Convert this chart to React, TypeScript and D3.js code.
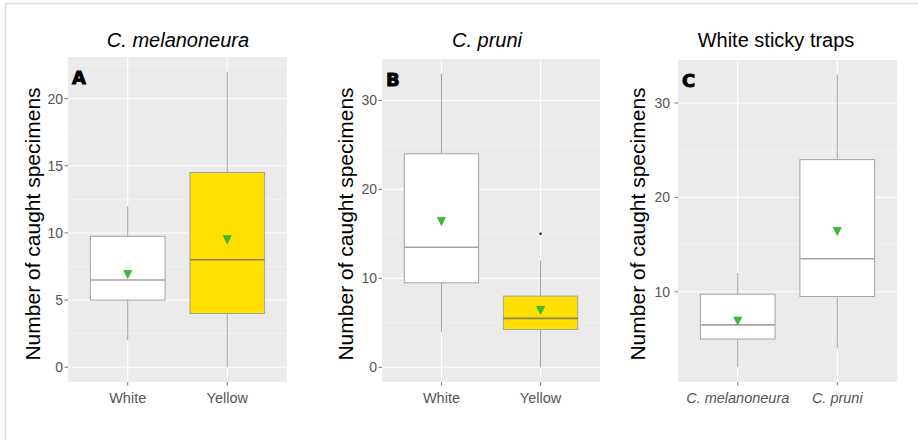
import * as d3 from "d3";
import React from "react";

// five-number summaries: [lower whisker, q1, median, q3, upper whisker]
const trapColours = ["White", "Yellow"];
const speciesNames = ["C. melanoneura", "C. pruni"];

const melanoneuraWhite = [2, 5, 6.5, 9.75, 12];
const melanoneuraYellow = [0, 4, 8, 14.5, 22];
const pruniWhite = [4, 9.5, 13.5, 24, 33];
const pruniYellow = [0, 4.25, 5.5, 8, 12];

const meansA = [6.9, 9.5];
const meansB = [16.4, 6.4];
const meansC = [6.9, 16.4];

const outliersA: number[][] = [[], []];
const outliersB: number[][] = [[], [15]];
const outliersC: number[][] = [[], []];

const ticksA = [0, 5, 10, 15, 20];
const ticksB = [0, 10, 20, 30];
const ticksC = [10, 20, 30];

const WHITE_FILL = "#ffffff";
const YELLOW_FILL = "#ffdf00";
const BOX_LINE = "#a3a3a3";
const PANEL_BG = "#ebebeb";

interface PanelProps {
  left: number;
  right: number;
  top: number;
  bottom: number;
  title: string;
  titleX: number;
  titleItalic: boolean;
  letter: string;
  yLabelX: number;
  tickGap: number;
  categories: string[];
  boxes: number[][];
  means: number[];
  outliers: number[][];
  fills: string[];
  ticks: number[];
  italicCats: boolean;
}

const Panel = (p: PanelProps) => {
  const all = p.boxes.flat().concat(p.outliers.flat());
  const lo = d3.min(all) as number;
  const hi = d3.max(all) as number;
  const pad = (hi - lo) * 0.05;
  const y = d3
    .scaleLinear()
    .domain([lo - pad, hi + pad])
    .range([p.bottom, p.top]);
  const x = d3
    .scalePoint<string>()
    .domain(p.categories)
    .range([p.left, p.right])
    .padding(0.6);
  const bw = x.step() * 0.75;
  const step = p.ticks[1] - p.ticks[0];
  const [d0, d1] = y.domain();
  const minor: number[] = [];
  for (let v = p.ticks[0] - step / 2; v <= d1; v += step) {
    if (v >= d0) minor.push(v);
  }

  return (
    <g>
      <text
        x={p.titleX}
        y={47}
        textAnchor="middle"
        fontSize={20}
        fontStyle={p.titleItalic ? "italic" : "normal"}
        fill="#000"
      >
        {p.title}
      </text>
      <rect
        x={p.left}
        y={p.top}
        width={p.right - p.left}
        height={p.bottom - p.top}
        fill={PANEL_BG}
      />
      {minor.map(v => (
        <line
          key={"mi" + v}
          x1={p.left}
          x2={p.right}
          y1={y(v)}
          y2={y(v)}
          stroke="#f6f6f6"
          strokeWidth={0.6}
        />
      ))}
      {p.ticks.map(v => (
        <line
          key={"ma" + v}
          x1={p.left}
          x2={p.right}
          y1={y(v)}
          y2={y(v)}
          stroke="#fff"
          strokeWidth={1.1}
        />
      ))}
      {p.categories.map(c => (
        <line
          key={"vx" + c}
          x1={x(c)}
          x2={x(c)}
          y1={p.top}
          y2={p.bottom}
          stroke="#fff"
          strokeWidth={1.1}
        />
      ))}
      {p.categories.map((c, i) => {
        const cx = x(c) as number;
        const [mn, q1, md, q3, mx] = p.boxes[i];
        const m = y(p.means[i]);
        return (
          <g key={"box" + c}>
            <line x1={cx} x2={cx} y1={y(mx)} y2={y(q3)} stroke={BOX_LINE} strokeWidth={1} />
            <line x1={cx} x2={cx} y1={y(q1)} y2={y(mn)} stroke={BOX_LINE} strokeWidth={1} />
            <rect
              x={cx - bw / 2}
              y={y(q3)}
              width={bw}
              height={y(q1) - y(q3)}
              fill={p.fills[i]}
              stroke={BOX_LINE}
              strokeWidth={1}
            />
            <line
              x1={cx - bw / 2}
              x2={cx + bw / 2}
              y1={y(md)}
              y2={y(md)}
              stroke={p.fills[i] === YELLOW_FILL ? "#8a8456" : BOX_LINE}
              strokeWidth={1.6}
            />
            {p.outliers[i].map(o => (
              <circle key={"o" + o} cx={cx} cy={y(o)} r={1.3} fill="#333" />
            ))}
            <path
              d={`M${cx - 4},${m - 4}L${cx + 4},${m - 4}L${cx},${m + 4}Z`}
              fill="#33c233"
              stroke="#2a962a"
              strokeWidth={0.6}
            />
          </g>
        );
      })}
      <text
        x={p.left + 4}
        y={p.top + 27}
        fontFamily="DejaVu Sans"
        fontWeight="bold"
        fontSize={18}
        fill="#000"
        stroke="#000"
        strokeWidth={0.9}
      >
        {p.letter}
      </text>
      {p.ticks.map(v => (
        <g key={"yt" + v}>
          <line x1={p.left - 3.5} x2={p.left} y1={y(v)} y2={y(v)} stroke="#4d4d4d" strokeWidth={0.8} />
          <text
            x={p.left - p.tickGap}
            y={y(v)}
            dy="0.35em"
            textAnchor="end"
            fontSize={14}
            fill="#555"
          >
            {v}
          </text>
        </g>
      ))}
      {p.categories.map(c => (
        <g key={"xt" + c}>
          <line x1={x(c)} x2={x(c)} y1={p.bottom} y2={p.bottom + 3.5} stroke="#4d4d4d" strokeWidth={0.8} />
          <text
            x={x(c)}
            y={403}
            textAnchor="middle"
            fontSize={14.5}
            fontStyle={p.italicCats ? "italic" : "normal"}
            fill="#555"
          >
            {c}
          </text>
        </g>
      ))}
      <text
        transform={`translate(${p.yLabelX},224) rotate(-90)`}
        textAnchor="middle"
        fontSize={21}
        fill="#000"
      >
        Number of caught specimens
      </text>
    </g>
  );
};

export default function App() {
  return (
    <svg
      width={918}
      height={440}
      style={{ position: "absolute", left: 0, top: 0, background: "#fff" }}
      fontFamily="'Liberation Sans', Arial, sans-serif"
    >
      <line x1={5} x2={918} y1={3.5} y2={3.5} stroke="#dcdcdc" strokeWidth={1.5} />
      <line x1={5.5} x2={5.5} y1={3} y2={440} stroke="#dcdcdc" strokeWidth={1.5} />
      <Panel
        left={68}
        right={287}
        top={57}
        bottom={382}
        title="C. melanoneura"
        titleX={178}
        titleItalic={true}
        letter="A"
        yLabelX={40}
        tickGap={5}
        categories={trapColours}
        boxes={[melanoneuraWhite, melanoneuraYellow]}
        means={meansA}
        outliers={outliersA}
        fills={[WHITE_FILL, YELLOW_FILL]}
        ticks={ticksA}
        italicCats={false}
      />
      <Panel
        left={382}
        right={600}
        top={59}
        bottom={382}
        title="C. pruni"
        titleX={487}
        titleItalic={true}
        letter="B"
        yLabelX={353}
        tickGap={5}
        categories={trapColours}
        boxes={[pruniWhite, pruniYellow]}
        means={meansB}
        outliers={outliersB}
        fills={[WHITE_FILL, YELLOW_FILL]}
        ticks={ticksB}
        italicCats={false}
      />
      <Panel
        left={678}
        right={897}
        top={60}
        bottom={382}
        title="White sticky traps"
        titleX={776}
        titleItalic={false}
        letter="C"
        yLabelX={645}
        tickGap={8}
        categories={speciesNames}
        boxes={[melanoneuraWhite, pruniWhite]}
        means={meansC}
        outliers={outliersC}
        fills={[WHITE_FILL, WHITE_FILL]}
        ticks={ticksC}
        italicCats={true}
      />
    </svg>
  );
}
